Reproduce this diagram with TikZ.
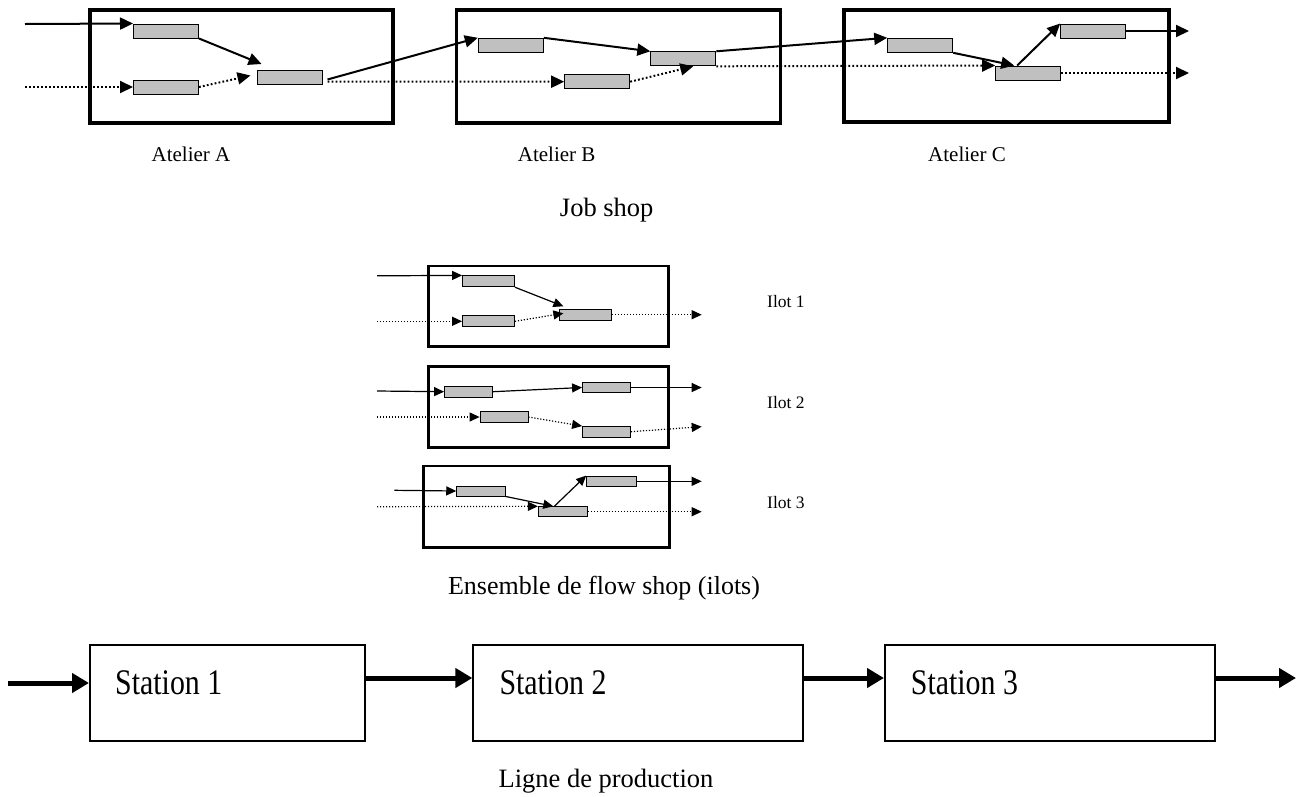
\documentclass[tikz,border=0pt]{standalone}
\usepackage{fontspec}
\setmainfont{Liberation Serif}
\usetikzlibrary{arrows.meta}
\definecolor{procgray}{HTML}{C0C0C0}
\begin{document}
\begin{tikzpicture}[x=1pt,y=-1pt,
  shopbox/.style={draw, line width=3.2pt, inner sep=0pt},
  ilotbox/.style={draw, line width=2.6pt, inner sep=0pt},
  proc/.style={draw, fill=procgray, line width=1pt, inner sep=0pt, minimum width=65pt, minimum height=14pt},
  sproc/.style={draw, fill=procgray, line width=0.8pt, inner sep=0pt, minimum width=48pt, minimum height=10.5pt},
  flow/.style={line width=2pt, -{Triangle[length=13pt,width=12pt]}},
  dflow/.style={flow, dash pattern=on 1.8pt off 2.2pt},
  sflow/.style={line width=1.2pt, -{Triangle[length=10pt,width=9pt]}},
  sdflow/.style={sflow, dash pattern=on 1.2pt off 1.8pt},
  station/.style={draw, line width=2pt, inner sep=0pt, minimum height=96pt},
  bigflow/.style={line width=5pt, -{Triangle[length=17pt,width=19pt]}},
  lbl/.style={inner sep=0pt, anchor=base},
]
\useasboundingbox (0,0) rectangle (1304,796);

% ---------------- Job shop ----------------
\node[shopbox, minimum width=303pt, minimum height=113pt] (boxA) at (241.5,66.5) {};
\node[shopbox, minimum width=324pt, minimum height=113pt] (boxB) at (618.7,66.5) {};
\node[shopbox, minimum width=325pt, minimum height=112pt] (boxC) at (1006.5,66) {};

\node[proc] (A1) at (166,31) {};
\node[proc] (A2) at (166,87) {};
\node[proc] (A3) at (289.5,77.5) {};
\node[proc] (B1) at (510.8,45.3) {};
\node[proc] (B2) at (597.2,81.7) {};
\node[proc] (B3) at (683.3,58.8) {};
\node[proc] (C1) at (920.2,45.3) {};
\node[proc] (C2) at (1028.2,73) {};
\node[proc] (C3) at (1093.2,31) {};

\coordinate (inA1) at (25,24);
\coordinate (inA2) at (25,87);
\coordinate (outC3) at (1189,31);
\coordinate (outC2) at (1189,73);

\draw[flow] (inA1) -- (A1.north west);
\draw[dflow] (inA2) -- (A2.west);
\draw[flow] (A1.south east) -- ([shift={(5pt,6pt)}]A3.north west);
\draw[dflow] (A2.east) -- ([shift={(-6pt,2pt)}]A3.west);
\draw[flow] ([shift={(5pt,-2pt)}]A3.east) -- (B1.north west);
\draw[dflow] ([shift={(5pt,-4pt)}]A3.east) -- (B2.west);
\draw[flow] (B1.north east) -- (B3.north west);
\draw[dflow] (B2.east) -- ([shift={(10pt,0pt)}]B3.south);
\draw[flow] (B3.north east) -- (C1.north west);
\draw[dflow] (B3.south east) -- (C2.north west);
\draw[flow] (C1.south east) -- ([shift={(-14pt,0pt)}]C2.north);
\draw[flow] ([shift={(-11pt,0pt)}]C2.north) -- (C3.north west);
\draw[flow] (C3.east) -- (outC3);
\draw[dflow] (C2.east) -- (outC2);

\node[lbl] (labA) at (191,161.7) {\fontsize{21}{25}\selectfont Atelier A};
\node[lbl] (labB) at (556.7,161.7) {\fontsize{21}{25}\selectfont Atelier B};
\node[lbl] (labC) at (967,161.7) {\fontsize{21}{25}\selectfont Atelier C};
\node[lbl] (capJob) at (606.7,216.5) {\fontsize{26.5}{30}\selectfont Job shop};

% ---------------- Ilots ----------------
\node[ilotbox, minimum width=240pt, minimum height=80.7pt] (ilot1) at (548.3,306.3) {};
\node[ilotbox, minimum width=240pt, minimum height=80.6pt] (ilot2) at (548.3,407) {};
\node[ilotbox, minimum width=246pt, minimum height=81.3pt] (ilot3) at (546.3,506.7) {};

% Ilot 1
\node[sproc, minimum width=52pt, minimum height=11pt] (I1a) at (488.5,281.3) {};
\node[sproc, minimum width=52pt, minimum height=11pt] (I1b) at (488.5,321.3) {};
\node[sproc, minimum width=52pt, minimum height=11pt] (I1c) at (585.8,314.7) {};
\coordinate (inI1a) at (377,275.8);
\coordinate (inI1b) at (377,321.3);
\coordinate (outI1) at (701.7,314.7);
\draw[sflow] (inI1a) -- (I1a.north west);
\draw[sdflow] (inI1b) -- (I1b.west);
\draw[sflow] (I1a.south east) -- ([shift={(4pt,2.5pt)}]I1c.north west);
\draw[sdflow] (I1b.east) -- ([shift={(4pt,1.4pt)}]I1c.west);
\draw[sdflow] (I1c.east) -- (outI1);

% Ilot 2
\node[sproc] (I2a) at (468.5,391.7) {};
\node[sproc] (I2b) at (504,417) {};
\node[sproc] (I2c) at (606.5,387.5) {};
\node[sproc] (I2d) at (606.5,431.7) {};
\coordinate (inI2a) at (377,391);
\coordinate (inI2b) at (377,417);
\coordinate (outI2c) at (701.7,387.5);
\coordinate (outI2d) at (701.7,426.7);
\draw[sflow] (inI2a) -- (I2a.west);
\draw[sflow] (I2a.east) -- (I2c.west);
\draw[sflow] (I2c.east) -- (outI2c);
\draw[sdflow] (inI2b) -- (I2b.west);
\draw[sdflow] (I2b.east) -- (I2d.north west);
\draw[sdflow] (I2d.east) -- (outI2d);

% Ilot 3
\node[sproc, minimum width=48.3pt, minimum height=10pt] (I3a) at (480.8,491) {};
\node[sproc, minimum width=49pt, minimum height=10pt] (I3b) at (562.8,511.7) {};
\node[sproc, minimum width=49.3pt, minimum height=10.7pt] (I3c) at (611.3,481.3) {};
\coordinate (inI3a) at (394.3,490.3);
\coordinate (inI3b) at (377,506.7);
\coordinate (outI3c) at (701.7,481.3);
\coordinate (outI3b) at (701.7,511.7);
\draw[sflow] (inI3a) -- (I3a.west);
\draw[sflow] (I3a.south east) -- ([shift={(-9.5pt,0pt)}]I3b.north);
\draw[sflow] ([shift={(-8.5pt,0pt)}]I3b.north) -- (I3c.north west);
\draw[sflow] (I3c.east) -- (outI3c);
\draw[sdflow] (inI3b) -- (I3b.north west);
\draw[sdflow] (I3b.east) -- (outI3b);

\node[lbl, anchor=base west] (lab1) at (767,307.3) {\fontsize{17.5}{20}\selectfont Ilot 1};
\node[lbl, anchor=base west] (lab2) at (767,408.3) {\fontsize{17.5}{20}\selectfont Ilot 2};
\node[lbl, anchor=base west] (lab3) at (767,508.3) {\fontsize{17.5}{20}\selectfont Ilot 3};
\node[lbl] (capFlow) at (604,594) {\fontsize{26}{30}\selectfont Ensemble de flow shop (ilots)};

% ---------------- Ligne de production ----------------
\node[station, minimum width=275pt] (S1) at (227.5,693) {};
\node[station, minimum width=329.7pt] (S2) at (638.2,693) {};
\node[station, minimum width=330pt] (S3) at (1050,693) {};
\node[lbl, anchor=base west] (tS1) at (115,694) {\fontsize{36}{40}\selectfont\scalebox{0.83}[1]{Station 1}};
\node[lbl, anchor=base west] (tS2) at (499.3,694) {\fontsize{36}{40}\selectfont\scalebox{0.83}[1]{Station 2}};
\node[lbl, anchor=base west] (tS3) at (910.7,694) {\fontsize{36}{40}\selectfont\scalebox{0.83}[1]{Station 3}};
\coordinate (inS1) at (8,683);
\coordinate (outS3) at (1296,678);
\draw[bigflow] (inS1) -- ([yshift=10pt]S1.west);
\draw[bigflow] ([yshift=15pt]S1.east) -- ([yshift=15pt]S2.west);
\draw[bigflow] ([yshift=15pt]S2.east) -- ([yshift=15pt]S3.west);
\draw[bigflow] ([yshift=15pt]S3.east) -- (outS3);
\node[lbl] (capLine) at (606,787.5) {\fontsize{26.5}{30}\selectfont Ligne de production};
\end{tikzpicture}
\end{document}
